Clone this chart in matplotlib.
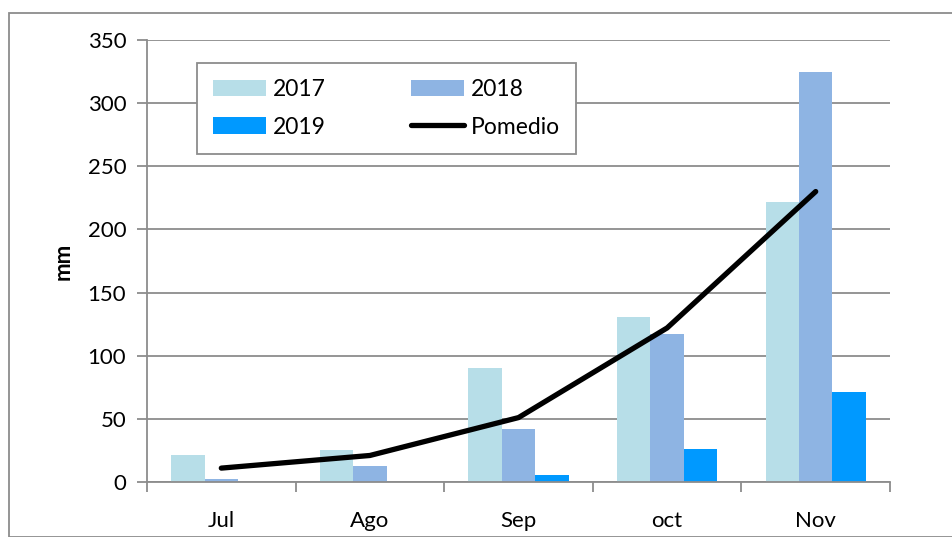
import matplotlib
matplotlib.use("Agg")
import matplotlib.pyplot as plt
import numpy as np
from matplotlib.patches import Rectangle

plt.rcParams['font.family'] = ['Lato', 'DejaVu Sans']

months = ["Jul", "Ago", "Sep", "oct", "Nov"]
y2017 = [21, 25, 90, 131, 222]
y2018 = [2.5, 13, 42, 117, 325]
y2019 = [0, 0, 5.5, 26, 71]
promedio = [11, 21, 51, 122, 230]
yticks = [0, 50, 100, 150, 200, 250, 300, 350]

W, H = 952, 537
fig = plt.figure(figsize=(W / 100, H / 100), dpi=100)
fig.patches.append(Rectangle((9 / W, 0), 1, 1 - 13 / H, transform=fig.transFigure,
                             fill=False, edgecolor="#8c8c8c", linewidth=1.3, zorder=0))
ax = fig.add_axes([147 / W, (H - 482) / H, (890 - 147) / W, (482 - 40) / H])

x = np.arange(len(months))
bw = 0.225
gray = "#8c8c8c"
b17 = ax.bar(x - bw, y2017, bw, color="#B7DEE8", label="2017", zorder=2)
b18 = ax.bar(x, y2018, bw, color="#8EB4E3", label="2018", zorder=2)
b19 = ax.bar(x + bw, y2019, bw, color="#0099FF", label="2019", zorder=2)
ln, = ax.plot(x, promedio, color="black", linewidth=3.8, solid_capstyle="round",
              label="Pomedio", zorder=3)

ax.set_xlim(-0.5, len(months) - 0.5)
ax.set_ylim(0, 350)
ax.set_yticks(yticks)
ax.set_xticks(x)
ax.set_xticklabels(months)
ax.set_xticks(np.arange(-0.5, len(months), 1), minor=True)
ax.tick_params(axis="x", which="major", length=0, labelsize=16, pad=21)
ax.tick_params(axis="x", which="minor", length=7, color=gray, width=1.3)
ax.tick_params(axis="y", length=7, color=gray, width=1.3, labelsize=16, pad=8)
ax.grid(axis="y", color=gray, linewidth=1.3, zorder=0)
ax.set_axisbelow(True)
for s in ["top", "right"]:
    ax.spines[s].set_visible(False)
for s in ["left", "bottom"]:
    ax.spines[s].set_color(gray)
    ax.spines[s].set_linewidth(1.3)
ax.set_ylabel("mm", fontsize=16, fontweight="bold", labelpad=10)

# column-major order so rows read: 2017 2018 / 2019 Pomedio
handles = [b17, b19, b18, ln]
labels = ["2017", "2019", "2018", "Pomedio"]
leg = ax.legend(handles, labels, loc="upper left", bbox_to_anchor=(197 / W, 1 - 63 / H),
                bbox_transform=fig.transFigure, ncol=2, fontsize=16.5,
                frameon=True, fancybox=False, edgecolor=gray, framealpha=1,
                handlelength=2.3, handleheight=0.72, handletextpad=0.3,
                columnspacing=3.75, borderpad=0.7, labelspacing=0.72,
                borderaxespad=0)
leg.get_frame().set_linewidth(1.3)
leg.set_zorder(5)

fig.savefig("out.png", dpi=100)
